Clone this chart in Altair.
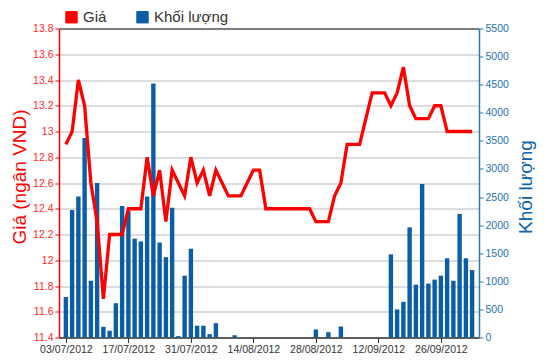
import altair as alt
import pandas as pd

dates = [
    "03/07/2012", "04/07/2012", "05/07/2012", "06/07/2012", "09/07/2012", "10/07/2012",
    "11/07/2012", "12/07/2012", "13/07/2012", "16/07/2012", "17/07/2012", "18/07/2012",
    "19/07/2012", "20/07/2012", "23/07/2012", "24/07/2012", "25/07/2012", "26/07/2012",
    "27/07/2012", "30/07/2012", "31/07/2012",
    "01/08/2012", "02/08/2012", "03/08/2012", "06/08/2012", "07/08/2012", "08/08/2012",
    "09/08/2012", "10/08/2012", "13/08/2012", "14/08/2012", "15/08/2012", "16/08/2012",
    "17/08/2012", "20/08/2012", "21/08/2012", "22/08/2012", "23/08/2012", "24/08/2012",
    "27/08/2012", "28/08/2012", "29/08/2012", "30/08/2012", "31/08/2012",
    "04/09/2012", "05/09/2012", "06/09/2012", "07/09/2012", "10/09/2012", "11/09/2012",
    "12/09/2012", "13/09/2012", "14/09/2012", "17/09/2012", "18/09/2012", "19/09/2012",
    "20/09/2012", "21/09/2012", "24/09/2012", "25/09/2012", "26/09/2012", "27/09/2012",
    "28/09/2012", "01/10/2012", "02/10/2012", "03/10/2012",
]

price = [
    12.9, 13.0, 13.4, 13.2, 12.6, 12.3, 11.7, 12.2, 12.2, 12.2,
    12.4, 12.4, 12.4, 12.8, 12.5, 12.7, 12.3, 12.7, 12.6, 12.5,
    12.8, 12.6, 12.7, 12.5, 12.7, 12.6, 12.5, 12.5, 12.5, 12.6,
    12.7, 12.7, 12.4, 12.4, 12.4, 12.4, 12.4, 12.4, 12.4, 12.4,
    12.3, 12.3, 12.3, 12.5, 12.6, 12.9, 12.9, 12.9, 13.1, 13.3,
    13.3, 13.3, 13.2, 13.3, 13.5, 13.2, 13.1, 13.1, 13.1, 13.2,
    13.2, 13.0, 13.0, 13.0, 13.0, 13.0,
]

volume = [
    720, 2270, 2510, 3550, 1010, 2750, 190, 120, 610, 2340,
    2250, 1760, 1710, 2510, 4520, 1690, 1430, 2310, 25, 1100,
    1580, 210, 210, 60, 255, 0, 0, 40, 0, 0,
    0, 0, 0, 0, 0, 0, 0, 0, 0, 0,
    142, 0, 95, 0, 196, 0, 0, 0, 0, 0,
    0, 0, 1480, 500, 635, 1960, 940, 2730, 960, 1030,
    1100, 1410, 1010, 2200, 1410, 1200,
]

series_names = ["Giá", "Khối lượng"]
series_colors = ["#ff0000", "#0b5ea6"]

price_ticks = [round(11.4 + 0.2 * k, 1) for k in range(13)]
volume_ticks = list(range(0, 5501, 500))
tick_idx = list(range(0, len(dates), 10))

df = pd.DataFrame({
    "idx": list(range(len(dates))),
    "date": dates,
    "price": price,
    "volume": volume,
})

FONT = "Liberation Sans"
label_arr = "[" + ",".join("'" + dates[i] + "'" for i in tick_idx) + "]"

x_enc = alt.X(
    "idx:Q",
    scale=alt.Scale(domain=[-0.3, len(dates) - 0.7], nice=False, zero=False),
    axis=alt.Axis(
        values=tick_idx,
        labelExpr=label_arr + "[round(datum.value/10)]",
        title=None,
        grid=False,
        domainColor="#333333",
        domainWidth=1.5,
        tickColor="#333333",
        tickSize=5,
        labelColor="#333333",
        labelFont=FONT,
        labelFontSize=10.5,
        labelPadding=2,
        labelOverlap=False,
    ),
)

color_scale = alt.Scale(domain=series_names, range=series_colors)
legend = alt.Legend(
    title=None,
    orient="none",
    legendX=5,
    legendY=-19,
    direction="horizontal",
    symbolType="square",
    symbolSize=130,
    symbolStrokeColor="#333333",
    symbolStrokeWidth=1,
    symbolOpacity=1,
    labelFont=FONT,
    labelFontSize=15,
    labelColor="#333333",
    labelOffset=4,
    columnPadding=27,
    padding=0,
)

bars = alt.Chart(df).transform_calculate(
    series="'Khối lượng'"
).mark_bar(size=4.4).encode(
    x=x_enc,
    y=alt.Y(
        "volume:Q",
        scale=alt.Scale(domain=[0, 5500], nice=False),
        axis=alt.Axis(
            orient="right",
            values=volume_ticks,
            format="d",
            grid=False,
            title="Khối lượng",
            titleAngle=270,
            titleColor="#0d63aa",
            titleFont=FONT,
            titleFontSize=19,
            titleFontWeight="normal",
            titlePadding=27,
            titleY=158,
            labelColor="#1f6fb0",
            labelFont=FONT,
            labelFontSize=10.5,
            labelPadding=2,
            domainColor="#2a7ab8",
            domainWidth=1.5,
            tickColor="#2a7ab8",
            tickSize=4,
        ),
    ),
    color=alt.Color("series:N", scale=color_scale, legend=legend),
)

line = alt.Chart(df).transform_calculate(
    series="'Giá'"
).mark_line(strokeWidth=3.3).encode(
    x=x_enc,
    y=alt.Y(
        "price:Q",
        scale=alt.Scale(domain=[11.4, 13.8], nice=False, zero=False),
        axis=alt.Axis(
            orient="left",
            values=price_ticks,
            format=".1~f",
            grid=True,
            gridColor=alt.condition("datum.value > 13.79", alt.value("#555555"), alt.value("#d2d2d2")),
            gridWidth=1.5,
            title="Giá (ngân VND)",
            titleColor="#ff0000",
            titleFont=FONT,
            titleFontSize=19,
            titleFontWeight="normal",
            titlePadding=3,
            titleY=148,
            labelColor="#ff2a2a",
            labelFont=FONT,
            labelFontSize=10.5,
            labelPadding=2,
            domainColor="#ff0000",
            domainWidth=1.5,
            tickColor="#ff0000",
            tickSize=4,
        ),
    ),
    color=alt.Color("series:N", scale=color_scale, legend=legend),
)

chart = alt.layer(bars, line).resolve_scale(
    y="independent"
).properties(
    width=420,
    height=309,
    padding={"left": 51, "top": 20.5, "right": 62, "bottom": 20},
    autosize=alt.AutoSizeParams(type="none"),
).configure_view(
    stroke="transparent"
)

chart.save("out.html", embed_options={"renderer": "svg", "actions": False})
